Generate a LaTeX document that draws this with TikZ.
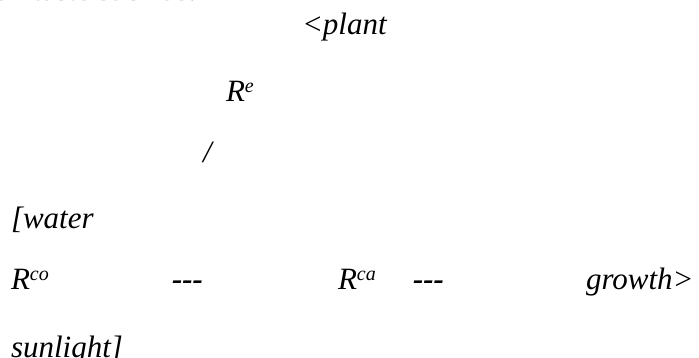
\documentclass[tikz,border=0pt]{standalone}
\usepackage{fontspec}
\setmainfont{Liberation Serif}
\newcommand\supx[1]{\raisebox{9.5pt}{\fontsize{20}{20}\selectfont #1}}
\begin{document}
\begin{tikzpicture}[x=1pt,y=-1pt,
  word/.style={anchor=base west,inner sep=0pt,outer sep=0pt,font=\fontsize{31}{37}\selectfont\itshape},
  dashword/.style={word,font=\fontsize{31}{37}\selectfont\bfseries\itshape},
  cut/.style={anchor=base west,inner sep=0pt,text=black!45,font=\fontsize{31}{37}\selectfont}]
\useasboundingbox (0,0) rectangle (699,358);
\begin{scope}
  \clip (0,0) rectangle (699,2.5);
  \node[cut,anchor=base east] (prev) at (9,0.3) {to};
  \node[cut] (top) at (33,0.3) {taste such as:};
\end{scope}
\node[word] (plant) at (302,35) {<plant};
\node[word] (re) at (226,102) {R\supx{e}};
\node[word] (slash) at (203,163) {/};
\node[word] (water) at (11,229) {[water};
\node[word] (rco) at (11,290) {R\supx{co}};
\node[dashword] (d1) at (172,290) {-{}-{}-};
\node[word] (rca) at (338,290) {R\supx{ca}};
\node[dashword] (d2) at (413,290) {-{}-{}-};
\node[word] (growth) at (586,290) {growth>};
\node[word] (sun) at (11,357) {sunlight]};
\end{tikzpicture}
\end{document}
